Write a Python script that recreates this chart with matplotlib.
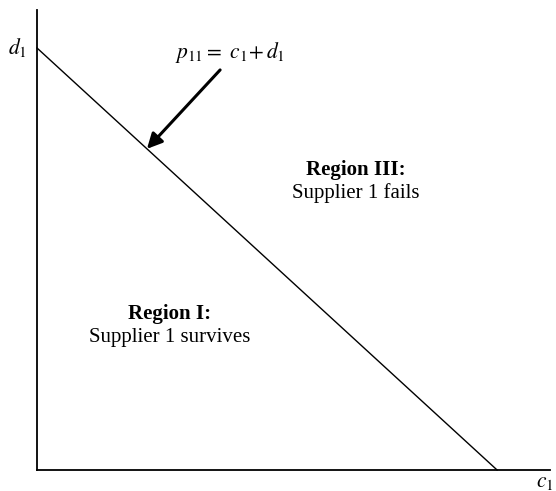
import matplotlib
matplotlib.use("Agg")
import matplotlib.pyplot as plt

plt.rcParams.update({
    "font.family": "Liberation Serif",
    "mathtext.fontset": "stix",
})

# boundary line p11 = c1 + d1 : intercepts (normalised)
line_c = [0.0, 1.0]
line_d = [1.0, 0.0]

# arrow tail / head (head sits on the boundary line)
arrow_tail = (0.398, 0.948)
arrow_head = (0.239, 0.761)

region_labels = [
    ("Region III:", "Supplier 1 fails", 0.693, 0.711),
    ("Region I:", "Supplier 1 survives", 0.289, 0.370),
]

fig = plt.figure(figsize=(5.56, 4.91), dpi=100)
ax = fig.add_axes([37 / 556, 21 / 491, 513 / 556, 460 / 491])
ax.set_xlim(0, 1.115)
ax.set_ylim(0, 1.090)

for side in ["top", "right"]:
    ax.spines[side].set_visible(False)
for side in ["left", "bottom"]:
    ax.spines[side].set_linewidth(1.3)
ax.set_xticks([])
ax.set_yticks([])

ax.plot(line_c, line_d, color="black", linewidth=1.0, clip_on=False)

ax.annotate("", xy=arrow_head, xytext=arrow_tail,
            arrowprops=dict(arrowstyle="-|>,head_length=0.9,head_width=0.45",
                            color="black", linewidth=2.2, shrinkA=0, shrinkB=0))

ax.text(0.42, 0.99, r"$p_{11} = \ c_1\!+d_1$", fontsize=15.5,
        ha="center", va="center")

for bold, normal, x, y in region_labels:
    ax.text(x, y, bold, fontsize=15, fontweight="bold", ha="center", va="center")
    ax.text(x, y - 0.055, normal, fontsize=15, ha="center", va="center")

ax.text(-0.043, 1.0, r"$d_1$", fontsize=15.5, ha="center", va="center", clip_on=False)
ax.text(1.104, -0.03, r"$c_1$", fontsize=15.5, ha="center", va="center", clip_on=False)

fig.savefig("out.png", dpi=100, facecolor="white")
